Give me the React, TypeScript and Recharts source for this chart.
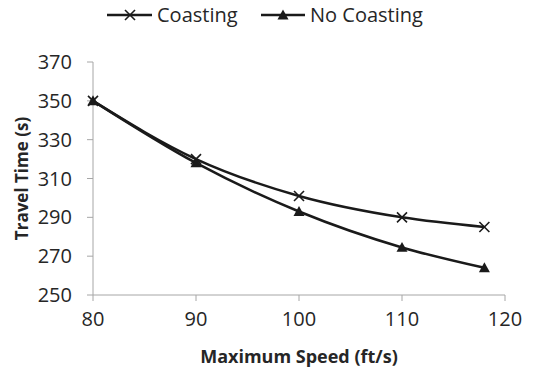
import React from 'react';
import { LineChart, Line, XAxis, YAxis } from 'recharts';

const speeds = [80, 90, 100, 110, 118];
const coasting = [350, 320, 301, 290, 285];
const noCoasting = [350, 318, 293, 274.5, 264];
const xTicks = [80, 90, 100, 110, 120];
const yTicks = [250, 270, 290, 310, 330, 350, 370];

const data = speeds.map((s, i) => ({ speed: s, coasting: coasting[i], noCoasting: noCoasting[i] }));

const FONT = '"Open Sans", sans-serif';
const INK = '#1a1a1a';
const AXIS = '#a6a6a6';

const CrossDot = (props: any) => {
  const { cx, cy } = props;
  if (cx == null || cy == null) return null;
  const r = 5;
  return (
    <g>
      <line x1={cx - r} y1={cy - r} x2={cx + r} y2={cy + r} stroke={INK} strokeWidth={1.6} />
      <line x1={cx - r} y1={cy + r} x2={cx + r} y2={cy - r} stroke={INK} strokeWidth={1.6} />
    </g>
  );
};

const TriDot = (props: any) => {
  const { cx, cy } = props;
  if (cx == null || cy == null) return null;
  const r = 5.5;
  return <polygon points={`${cx},${cy - r} ${cx + r},${cy + r * 0.8} ${cx - r},${cy + r * 0.8}`} fill={INK} />;
};

const YTick = (props: any) => {
  const { x, y, payload } = props;
  return (
    <text x={72} y={y} dy="0.35em" textAnchor="end" fontSize={20} fill="#262626" fontFamily={FONT}>
      {payload.value}
    </text>
  );
};

export default function App() {
  return (
    <div style={{ position: 'absolute', left: 0, top: 0, width: 541, height: 375, background: '#fff', fontFamily: FONT }}>
      <div style={{ position: 'absolute', top: 0, left: 0, width: 541, height: 32 }}>
        <svg width={541} height={32} style={{ position: 'absolute', left: 0, top: 0 }}>
          <line x1={107} y1={15} x2={152} y2={15} stroke={INK} strokeWidth={2.5} />
          <CrossDot cx={130} cy={15} />
          <text x={157} y={22} fontSize={20} fill="#262626" fontFamily={FONT}>Coasting</text>
          <line x1={261} y1={15} x2={305} y2={15} stroke={INK} strokeWidth={2.5} />
          <TriDot cx={283} cy={15} />
          <text x={310} y={22} fontSize={20} fill="#262626" fontFamily={FONT}>No Coasting</text>
        </svg>
      </div>
      <LineChart
        width={541}
        height={375}
        data={data}
        margin={{ top: 62, right: 36, bottom: 0, left: 0 }}
        style={{ position: 'absolute', left: 0, top: 0 }}
      >
        <XAxis
          dataKey="speed"
          type="number"
          domain={[80, 120]}
          ticks={xTicks}
          height={80}
          stroke={AXIS}
          tickSize={6}
          tick={{ fill: '#262626', fontSize: 20, fontFamily: FONT }}
          tickMargin={11}
          label={{ value: 'Maximum Speed (ft/s)', position: 'insideBottom', offset: 12, fill: '#262626', fontSize: 18, fontWeight: 'bold', fontFamily: FONT }}
        />
        <YAxis
          type="number"
          domain={[250, 370]}
          ticks={yTicks}
          width={93}
          stroke={AXIS}
          tickSize={6}
          tick={<YTick />}
          label={{ value: 'Travel Time (s)', angle: -90, position: 'insideLeft', offset: 22, style: { textAnchor: 'middle' }, fill: '#262626', fontSize: 17, fontWeight: 'bold', fontFamily: FONT }}
        />
        <Line type="monotone" dataKey="coasting" stroke={INK} strokeWidth={2.5} dot={<CrossDot />} activeDot={false} isAnimationActive={false} />
        <Line type="monotone" dataKey="noCoasting" stroke={INK} strokeWidth={2.5} dot={<TriDot />} activeDot={false} isAnimationActive={false} />
      </LineChart>
    </div>
  );
}
